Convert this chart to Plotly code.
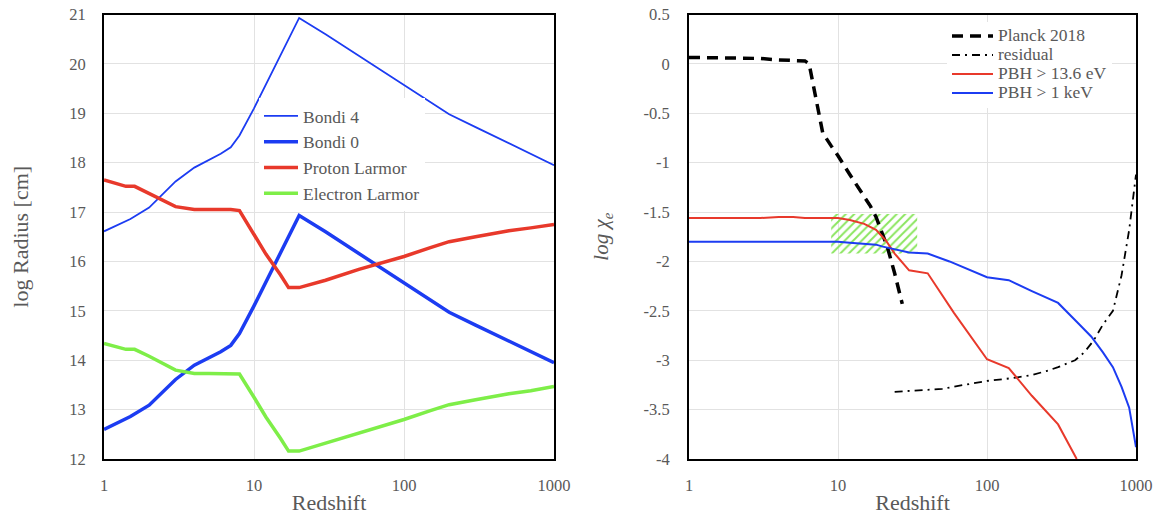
import plotly.graph_objects as go

# ---------------- Left panel data ----------------
z_bondi = [1, 1.5, 2, 3, 4, 5, 6, 7, 8, 10, 12, 15, 20, 30, 50, 70, 100, 150, 200, 300, 500, 700, 1000]
bondi4 = [16.61, 16.86, 17.09, 17.62, 17.90, 18.05, 18.18, 18.31, 18.55, 19.10, 19.58, 20.14, 20.93,
          20.60, 20.16, 19.88, 19.57, 19.22, 18.98, 18.72, 18.40, 18.18, 17.95]
bondi0 = [12.60, 12.86, 13.09, 13.61, 13.90, 14.04, 14.17, 14.30, 14.54, 15.10, 15.58, 16.14, 16.93,
          16.60, 16.16, 15.88, 15.57, 15.22, 14.97, 14.71, 14.39, 14.18, 13.95]

z_larmor = [1, 1.4, 1.6, 2, 3, 4, 5, 7, 8, 10, 12, 15, 17, 20, 30, 50, 70, 100, 150, 200, 300, 500, 700, 1000]
proton = [17.65, 17.52, 17.52, 17.38, 17.11, 17.05, 17.05, 17.05, 17.03, 16.55, 16.15, 15.73, 15.47, 15.47,
          15.62, 15.84, 15.97, 16.10, 16.28, 16.40, 16.50, 16.62, 16.68, 16.75]
electron = [14.34, 14.22, 14.22, 14.08, 13.80, 13.73, 13.73, 13.73, 13.72, 13.25, 12.85, 12.42, 12.16, 12.16,
            12.32, 12.52, 12.66, 12.80, 12.98, 13.10, 13.20, 13.32, 13.38, 13.47]

# ---------------- Right panel data ----------------
z_planck = [1, 2, 3, 4, 5, 6, 6.4, 7, 7.9, 9, 10, 12, 14, 16.5, 18, 19, 21.5, 24, 27]
planck = [0.065, 0.062, 0.055, 0.04, 0.033, 0.03, 0.0, -0.30, -0.70, -0.83, -0.93, -1.12, -1.28, -1.44,
          -1.55, -1.65, -1.86, -2.12, -2.43]

z_resid = [24, 30, 40, 50, 70, 100, 150, 200, 250, 300, 390, 450, 520, 600, 700, 800, 900, 1000]
resid = [-3.32, -3.31, -3.30, -3.29, -3.25, -3.21, -3.18, -3.15, -3.11, -3.07, -3.00, -2.92, -2.80, -2.64,
         -2.50, -2.14, -1.68, -1.12]

z_pbh136 = [1, 2, 3, 4, 5, 6, 8, 10, 12, 15, 18, 21, 24, 30, 40, 60, 100, 140, 200, 300, 400]
pbh136 = [-1.56, -1.56, -1.56, -1.55, -1.55, -1.56, -1.56, -1.56, -1.58, -1.62, -1.68, -1.79, -1.92,
          -2.09, -2.12, -2.52, -2.99, -3.08, -3.36, -3.65, -4.0]

z_pbh1k = [1, 2, 5, 10, 12, 15, 18, 20, 23, 30, 40, 56, 100, 140, 200, 300, 400, 500, 600, 700, 800, 900, 1000]
pbh1k = [-1.80, -1.80, -1.80, -1.80, -1.81, -1.82, -1.83, -1.85, -1.87, -1.91, -1.92, -2.00, -2.16, -2.19,
         -2.30, -2.42, -2.61, -2.76, -2.92, -3.07, -3.27, -3.48, -3.88]

hatch_z = [9, 34]
hatch_y = [-1.92, -1.52]

x_ticks = [1, 10, 100, 1000]
x_ticktext = ["1", "10", "100", "1000"]
left_yticks = [12, 13, 14, 15, 16, 17, 18, 19, 20, 21]
right_yticks = [-4, -3.5, -3, -2.5, -2, -1.5, -1, -0.5, 0, 0.5]
right_yticktext = ["-4", "-3.5", "-3", "-2.5", "-2", "-1.5", "-1", "-0.5", "0", "0.5"]

BLUE = "#1c3cf2"
RED = "#e8392b"
GREEN = "#7eee48"
TXT = "#595959"
FONT = "Liberation Serif"

fig = go.Figure()

# Left panel
fig.add_trace(go.Scatter(x=z_bondi, y=bondi4, mode="lines", name="Bondi 4",
                         line=dict(color=BLUE, width=1.8), xaxis="x", yaxis="y", legend="legend"))
fig.add_trace(go.Scatter(x=z_bondi, y=bondi0, mode="lines", name="Bondi 0",
                         line=dict(color=BLUE, width=3.5), xaxis="x", yaxis="y", legend="legend"))
fig.add_trace(go.Scatter(x=z_larmor, y=proton, mode="lines", name="Proton Larmor",
                         line=dict(color=RED, width=3.5), xaxis="x", yaxis="y", legend="legend"))
fig.add_trace(go.Scatter(x=z_larmor, y=electron, mode="lines", name="Electron Larmor",
                         line=dict(color=GREEN, width=3.5), xaxis="x", yaxis="y", legend="legend"))

# Right panel: hatched region first (beneath curves)
fig.add_trace(go.Scatter(x=[hatch_z[0], hatch_z[1], hatch_z[1], hatch_z[0], hatch_z[0]],
                         y=[hatch_y[0], hatch_y[0], hatch_y[1], hatch_y[1], hatch_y[0]],
                         mode="lines", fill="toself", line=dict(width=0, color="rgba(0,0,0,0)"),
                         fillcolor="rgba(0,0,0,0)",
                         fillpattern=dict(shape="/", fgcolor="#8ae55e", bgcolor="rgba(255,255,255,0)",
                                          size=6, solidity=0.32, fillmode="replace"),
                         showlegend=False, hoverinfo="skip", xaxis="x2", yaxis="y2"))


def lg(t):
    return '<span style="font-size:17.5px">' + t + '</span>'


fig.add_trace(go.Scatter(x=z_planck, y=planck, mode="lines", name=lg("Planck 2018"),
                         line=dict(color="black", width=3.5, dash="11px,7px"),
                         xaxis="x2", yaxis="y2", legend="legend2"))
fig.add_trace(go.Scatter(x=z_resid, y=resid, mode="lines", name=lg("residual"),
                         line=dict(color="black", width=1.8, dash="8px,5px,2px,5px"),
                         xaxis="x2", yaxis="y2", legend="legend2"))
fig.add_trace(go.Scatter(x=z_pbh136, y=pbh136, mode="lines", name=lg("PBH &gt; 13.6 eV"),
                         line=dict(color=RED, width=2), xaxis="x2", yaxis="y2", legend="legend2"))
fig.add_trace(go.Scatter(x=z_pbh1k, y=pbh1k, mode="lines", name=lg("PBH &gt; 1 keV"),
                         line=dict(color=BLUE, width=2), xaxis="x2", yaxis="y2", legend="legend2"))

W, H = 1161, 515


def px_x(p):
    return p / W


def px_y(p):
    return 1 - p / H


ydom = [px_y(459), px_y(14.5)]

common_x = dict(type="log", range=[0, 3], tickvals=x_ticks, ticktext=x_ticktext,
                showgrid=True, gridcolor="#e2e2e2", gridwidth=1, showline=True, linecolor="black",
                linewidth=2, mirror=True, ticks="", zeroline=False,
                tickfont=dict(family=FONT, size=16.5, color=TXT), ticklabelstandoff=10,
                ticklabeloverflow="allow",
                title=dict(text="Redshift", font=dict(family=FONT, size=22, color=TXT), standoff=3),
                automargin=False)
common_y = dict(showgrid=True, gridcolor="#e2e2e2", gridwidth=1, showline=True, linecolor="black",
                linewidth=2, mirror=True, ticks="", zeroline=False, ticklabeloverflow="allow",
                tickfont=dict(family=FONT, size=16.5, color=TXT), automargin=False)

fig.update_layout(
    width=W, height=H,
    margin=dict(l=0, r=0, t=0, b=0),
    paper_bgcolor="white", plot_bgcolor="white",
    font=dict(family=FONT, color=TXT),
    xaxis=dict(domain=[px_x(104), px_x(554)], anchor="y", **common_x),
    yaxis=dict(domain=ydom, anchor="x", range=[12, 21], tickvals=left_yticks,
               ticklabelstandoff=13,
               title=dict(text="log Radius [cm]", font=dict(family=FONT, size=22, color=TXT), standoff=35),
               **common_y),
    xaxis2=dict(domain=[px_x(689), px_x(1136)], anchor="y2", **common_x),
    yaxis2=dict(domain=ydom, anchor="x2", range=[-4, 0.5], tickvals=right_yticks, ticktext=right_yticktext,
                ticklabelstandoff=14,
                title=dict(text="<i>log χ<sub>e</sub></i>", font=dict(family=FONT, size=21, color=TXT), standoff=29),
                **common_y),
    legend=dict(x=px_x(259), y=px_y(98), xanchor="left", yanchor="top", bgcolor="white",
                borderwidth=0, itemwidth=34, font=dict(family=FONT, size=17.5, color=TXT),
                tracegroupgap=0),
    legend2=dict(x=px_x(947), y=px_y(21.5), xanchor="left", yanchor="top", bgcolor="white",
                 borderwidth=0, itemwidth=41, font=dict(family=FONT, size=12, color=TXT),
                 tracegroupgap=0),
)

fig.write_html("out.html", config={"displayModeBar": False},
               post_script="document.body.style.margin='0px';document.body.style.overflow='hidden';")
